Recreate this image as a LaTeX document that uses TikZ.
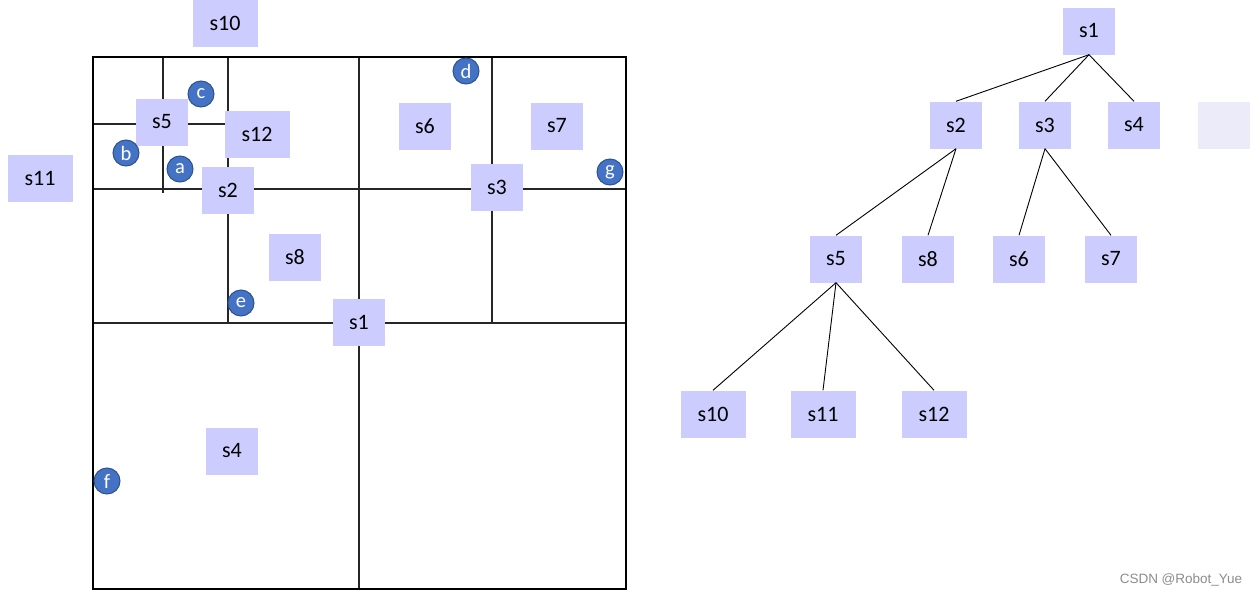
\documentclass[tikz,border=0pt]{standalone}
\usepackage{fontspec}
\newfontfamily\carl{Carlito}
\newfontfamily\wmfont{Liberation Sans}
\definecolor{boxc}{RGB}{204,204,255}
\definecolor{boxlight}{RGB}{235,235,250}
\definecolor{ptblue}{RGB}{68,114,196}
\definecolor{ptedge}{RGB}{47,82,143}
\tikzset{
  sbox/.style={fill=boxc, minimum width=52pt, minimum height=47pt, inner sep=0pt,
    font=\carl\fontsize{22}{22}\selectfont},
  wbox/.style={sbox, minimum width=65pt},
  pt/.style={circle, fill=ptblue, draw=ptedge, line width=1pt, minimum size=26pt,
    inner sep=0pt, text=white, font=\carl\fontsize{20.5}{20.5}\selectfont},
  grid/.style={line width=1.1pt, draw=black!85},
  outer/.style={line width=2.2pt, draw=black},
  edge/.style={line width=0.9pt, draw=black},
}
\begin{document}
\begin{tikzpicture}[x=1pt,y=-1pt]
\useasboundingbox (0,0) rectangle (1259,597);
% ---- quadtree plan ----
\draw[grid] (359,57) -- (359,589);
\draw[grid] (93,323) -- (626,323);
\draw[grid] (93,189) -- (626,189);
\draw[grid] (228,57) -- (228,323);
\draw[grid] (492,57) -- (492,323);
\draw[grid] (163,57) -- (163,193);
\draw[grid] (93,124) -- (228,124);
\draw[outer] (93,57) rectangle (626,589);
% boxes in plan
\node[wbox] (q10) at (225,23) {s10};
\node[wbox] (q11) at (40,178) {s11};
\node[sbox] (q5) at (162,122) {s5};
\node[wbox] (q12) at (257,134) {s12};
\node[sbox] (q2) at (228,190) {s2};
\node[sbox] (q8) at (295,257) {s8};
\node[sbox] (q1) at (359,322) {s1};
\node[sbox] (q6) at (425,126) {s6};
\node[sbox] (q7) at (557,126) {s7};
\node[sbox] (q3) at (497,187) {s3};
\node[sbox] (q4) at (232,451) {s4};
% points
\node[pt] (pc) at (201,94) {c};
\node[pt] (pb) at (126,153) {b};
\node[pt] (pa) at (180,169) {a};
\node[pt] (pe) at (241,303) {e};
\node[pt] (pd) at (466,71) {d};
\node[pt] (pg) at (610,172) {g};
\node[pt] (pf) at (107,481) {f};
% ---- tree ----
\node[sbox] (t1) at (1089,31) {s1};
\node[sbox] (t2) at (956,125) {s2};
\node[sbox] (t3) at (1045,125) {s3};
\node[sbox] (t4) at (1134,125) {s4};
\node[sbox, fill=boxlight] (tx) at (1224,125) {};
\node[sbox] (t5) at (836,259) {s5};
\node[sbox] (t8) at (928,259) {s8};
\node[sbox] (t6) at (1019,259) {s6};
\node[sbox] (t7) at (1111,259) {s7};
\node[wbox] (t10) at (713,414) {s10};
\node[wbox] (t11) at (823,414) {s11};
\node[wbox] (t12) at (934,414) {s12};
\draw[edge] (t1.south) -- (t2.north);
\draw[edge] (t1.south) -- (t3.north);
\draw[edge] (t1.south) -- (t4.north);
\draw[edge] (t2.south) -- (t5.north);
\draw[edge] (t2.south) -- (t8.north);
\draw[edge] (t3.south) -- (t6.north);
\draw[edge] (t3.south) -- (t7.north);
\draw[edge] (t5.south) -- (t10.north);
\draw[edge] (t5.south) -- (t11.north);
\draw[edge] (t5.south) -- (t12.north);
% watermark
\node[text=black!45, font=\wmfont\fontsize{13.5}{13.5}\selectfont] (wm) at (1181,580) {CSDN @Robot\_Yue};
\end{tikzpicture}
\end{document}
